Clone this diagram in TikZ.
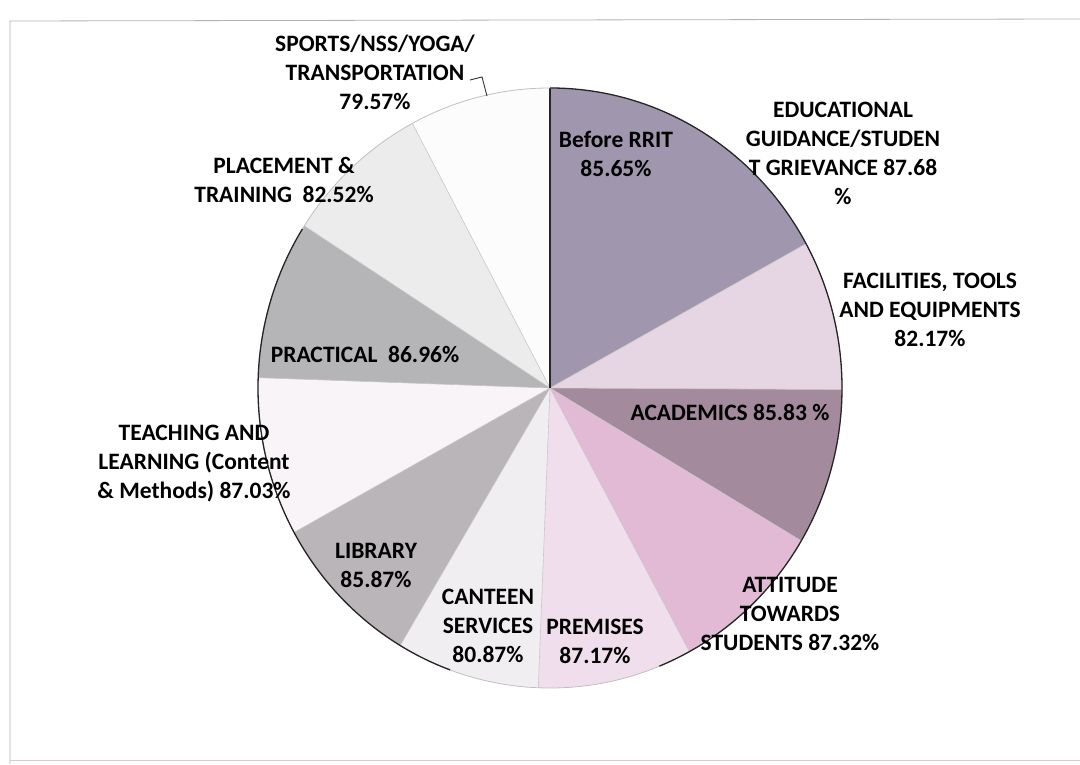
\documentclass[tikz,border=0pt]{standalone}
\usepackage{fontspec}
\setmainfont{Carlito}
\begin{document}
\begin{tikzpicture}[x=1pt,y=1pt,
  lbl/.style={font=\bfseries\fontsize{23.5}{29}\selectfont, align=center, inner sep=0pt, text=black},
  edge/.style={draw=gray!45, line width=0.6pt},
  rim/.style={draw=black!85, line width=1.3pt},
  rimlight/.style={draw=gray!50, line width=0.8pt}]
\useasboundingbox (0,0) rectangle (1080,764);
\definecolor{cBefore}{RGB}{160,150,174}
\definecolor{cFac}{RGB}{230,213,226}
\definecolor{cAcad}{RGB}{163,138,156}
\definecolor{cAtt}{RGB}{226,186,214}
\definecolor{cPrem}{RGB}{241,222,237}
\definecolor{cCant}{RGB}{240,238,241}
\definecolor{cLib}{RGB}{186,181,184}
\definecolor{cTeach}{RGB}{249,244,247}
\definecolor{cPrac}{RGB}{181,181,184}
\definecolor{cPlac}{RGB}{236,236,236}
\definecolor{cSport}{RGB}{252,252,252}
% frame of the chart area
\draw[gray!60, line width=0.8pt] (1080,745) -- (10,743) -- (10,0);
\draw[red!25!gray!35, line width=0.8pt] (10,4) -- (1080,4);
% slices
\coordinate (C) at (550,376);
\newcommand\pieslice[3]{\fill[#3] (C) -- ++(#1:292pt and 300pt) arc[start angle=#1, end angle=#2, x radius=292pt, y radius=300pt] -- cycle;}
% Before RRIT (90 to 59.73) and Educational guidance (59.73 to 28.743) share one shade
\pieslice{90}{28.743}{cBefore}
\pieslice{28.743}{-0.297}{cFac}
\pieslice{-0.297}{-30.63}{cAcad}
\pieslice{-30.63}{-61.49}{cAtt}
\pieslice{-61.49}{-92.297}{cPrem}
\pieslice{-92.297}{-120.877}{cCant}
\pieslice{-120.877}{-151.224}{cLib}
\pieslice{-151.224}{-181.981}{cTeach}
\pieslice{-181.981}{-212.714}{cPrac}
\pieslice{-212.714}{-241.878}{cPlac}
\pieslice{-241.878}{-270}{cSport}
% radial edges
\foreach \a in {28.743,-0.297,-30.63,-61.49,-92.297,-120.877,-151.224,-181.981,-212.714,-241.878}
  \draw[edge] (C) -- ++(\a:292pt and 300pt);
\draw[rim, line width=1.1pt] (C) -- ++(90:292pt and 300pt);
% rim
\draw[rimlight] (C) ++(0:292pt and 300pt) arc[start angle=0, end angle=360, x radius=292pt, y radius=300pt];
\draw[rim] (C) ++(90:292pt and 300pt) arc[start angle=90, end angle=-68, x radius=292pt, y radius=300pt];
\draw[rim] (C) ++(148:292pt and 300pt) arc[start angle=148, end angle=250, x radius=292pt, y radius=300pt];
% labels
\node[lbl] (sports) at (375,692) {SPORTS/NSS/YOGA/\\TRANSPORTATION\\79.57\%};
\node[lbl] (placement) at (284,584) {PLACEMENT \&\\TRAINING\ \ 82.52\%};
\node[lbl] (before) at (616,610) {Before RRIT\\85.65\%};
\node[lbl] (edu) at (843,611) {EDUCATIONAL\\GUIDANCE/STUDEN\\T GRIEVANCE 87.68\\\%};
\node[lbl] (fac) at (930,454) {FACILITIES, TOOLS\\AND EQUIPMENTS\\82.17\%};
\node[lbl] (acad) at (730,352) {ACADEMICS 85.83 \%};
\node[lbl] (att) at (790,150) {ATTITUDE\\TOWARDS\\STUDENTS 87.32\%};
\node[lbl] (prem) at (595,123) {PREMISES\\87.17\%};
\node[lbl] (cant) at (488,138) {CANTEEN\\SERVICES\\80.87\%};
\node[lbl] (lib) at (376,199) {LIBRARY\\85.87\%};
\node[lbl] (teach) at (194,300) {TEACHING AND\\LEARNING (Content\\\& Methods) 87.03\%};
\node[lbl] (prac) at (365,410) {PRACTICAL\ \ 86.96\%};
% leader for sports label
\coordinate (sl1) at (470,684);
\coordinate (sl2) at (487,668);
\draw[black!80, line width=0.9pt] (sl1) -- (482,687) -- (sl2);
\end{tikzpicture}
\end{document}
